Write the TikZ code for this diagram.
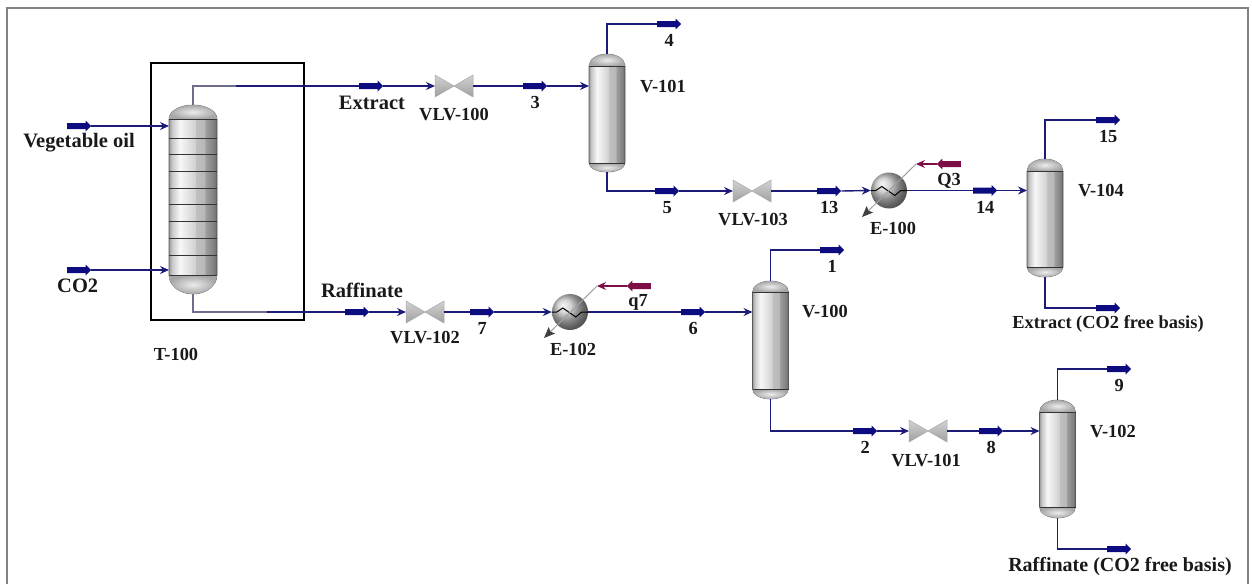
\documentclass[tikz,border=0pt]{standalone}
\usepackage{fontspec}
\setmainfont{Liberation Serif}
\usepackage{xcolor}
\usetikzlibrary{shapes.arrows, arrows.meta, positioning}
\definecolor{streamnavy}{RGB}{12,12,128}
\definecolor{linenavy}{RGB}{28,28,120}
\definecolor{washedline}{RGB}{110,110,140}
\definecolor{dutyred}{RGB}{125,15,70}
\definecolor{framegray}{RGB}{130,130,130}
\pgfdeclarehorizontalshading{vesselbands}{100bp}{
  gray(0bp)=(.6); gray(25bp)=(.6); gray(28bp)=(.78); gray(36bp)=(.97);
  gray(46bp)=(.88); gray(52bp)=(.82); gray(53bp)=(.75); gray(62bp)=(.72);
  gray(63bp)=(.62); gray(72bp)=(.5); gray(75bp)=(.38); gray(100bp)=(.38)
}
\tikzset{
  stream/.style={line width=1.4pt, color=linenavy},
  washed/.style={line width=1.1pt, color=washedline},
  feed/.style={stream, -{Stealth[length=9pt, width=8pt, inset=3pt]}},
  marker/.style={
    single arrow, fill=streamnavy, minimum height=24pt, minimum width=11pt,
    single arrow head extend=2.5pt, inner xsep=0pt, inner ysep=2.8pt, anchor=tail
  },
  dutymarker/.style={marker, fill=dutyred, shape border rotate=180},
  dutyarrow/.style={line width=1.2pt, color=dutyred, -{Stealth[length=9pt, width=8pt, inset=3pt]}},
  dutyline/.style={line width=1pt, color=gray!75, -{Stealth[length=11pt, width=9pt, inset=2pt, color=black!75]}},
  exchanger/.style={circle, minimum size=36pt, inner sep=0pt, shading=ball, ball color=gray!45},
  coil/.style={line width=1pt, color=black},
  unitbody/.style={rectangle, inner sep=0pt, outer sep=0pt},
  vesselwall/.style={shading=vesselbands, draw=gray!70!black, line width=.6pt},
  vesselcap/.style={inner color=gray!15, outer color=gray!70},
  tray/.style={line width=.8pt, color=black!80},
  valvehalf/.style={top color=gray!35, middle color=white, bottom color=gray!75, draw=gray!70, line width=.5pt},
  tag/.style={font=\fontsize{18.4}{20}\selectfont\bfseries, inner sep=0pt, text=black!90},
  numtag/.style={tag, xshift=1.5pt},
  bigtag/.style={tag, font=\fontsize{20.5}{22}\selectfont\bfseries}
}
% name, x, y, width, height, top dome depth, bottom dome depth
\newcommand{\vessel}[7]{
  \node[unitbody, minimum width=#4pt, minimum height=#5pt] (#1) at (#2,#3) {};
  \path[vesselwall] ([yshift=-#6pt]#1.north west)
    arc[start angle=180, end angle=0, x radius=#4pt/2, y radius=#6pt]
    -- ([yshift=#7pt]#1.south east)
    arc[start angle=0, end angle=-180, x radius=#4pt/2, y radius=#7pt] -- cycle;
  \shade[vesselcap] ([yshift=-#6pt]#1.north west)
    arc[start angle=180, end angle=0, x radius=#4pt/2, y radius=#6pt] -- cycle;
  \shade[vesselcap] ([yshift=#7pt]#1.south east)
    arc[start angle=0, end angle=-180, x radius=#4pt/2, y radius=#7pt] -- cycle;
  \draw[tray] ([yshift=-#6pt]#1.north west) -- ([yshift=-#6pt]#1.north east);
  \draw[tray] ([yshift=#7pt]#1.south west) -- ([yshift=#7pt]#1.south east);
}
% name, x, y
\newcommand{\valve}[3]{
  \node[unitbody, minimum width=38pt, minimum height=22pt] (#1) at (#2,#3) {};
  \shade[valvehalf] (#1.north west) -- (#1.south west) -- (#1.center) -- cycle;
  \shade[valvehalf] (#1.north east) -- (#1.south east) -- (#1.center) -- cycle;
}
\begin{document}
\begin{tikzpicture}[x=1pt, y=-1pt]
  \useasboundingbox (0,0) rectangle (1252,584);
  \coordinate (frameA) at (7,584);
  \coordinate (frameB) at (7,8);
  \coordinate (frameC) at (1248,8);
  \coordinate (frameD) at (1248,584);
  \draw[framegray, line width=2pt] (frameA) -- (frameB) -- (frameC) -- (frameD);

  % Extractor with its box
  \node[draw=black, line width=1.1pt, minimum width=153pt, minimum height=257pt,
        inner sep=0pt] (t100box) at (227.5,191.5) {};
  \vessel{t100}{193}{199.5}{48}{189}{14}{19}
  \foreach \trayy in {138,154,171,188,204,221,238,255}
    \draw[tray] (t100.west |- 0,\trayy) -- (t100.east |- 0,\trayy);
  \node[tag] (t100tag) at (176,354) {T-100};

  \node[marker] (oil) at (67,126) {};
  \node[marker] (co2) at (67,270) {};
  \node[bigtag] (oiltag) at (79,143) {Vegetable oil};
  \node[bigtag, below=6pt of co2.south] (co2tag) {CO2};
  \draw[feed] (oil.tip) -- (t100.west |- oil.tip);
  \draw[feed] (co2.tip) -- (t100.west |- co2.tip);

  % Extract line
  \coordinate (t100top) at (236,86);
  \node[marker] (extract) at (359,86) {};
  \valve{vlv100}{454}{86}
  \node[marker] (s3) at (523,86) {};
  \vessel{v101}{607}{113}{36}{118}{12}{9}
  \node[marker] (s4) at (657,24) {};
  \node[marker] (s5) at (655,191) {};
  \valve{vlv103}{752}{191}
  \node[marker] (s13) at (817,191) {};
  \node[exchanger] (e100) at (889,190.5) {};
  \node[marker] (s14) at (973,190.5) {};
  \vessel{v104}{1045}{218}{36}{118}{12}{10}
  \node[marker] (s15) at (1096,120) {};
  \node[marker] (extractfree) at (1096,308) {};

  \draw[washed] (t100.north) |- (t100top);
  \draw[stream] (t100top) -- (extract.tail);
  \draw[feed] (extract.tip) -- (vlv100.west);
  \draw[stream] (vlv100.east) -- (s3.tail);
  \draw[feed] (s3.tip) -- (v101.west |- s3.tip);
  \draw[stream] (v101.north) |- (s4.tail);
  \draw[stream] (v101.south) |- (s5.tail);
  \draw[feed] (s5.tip) -- (vlv103.west);
  \draw[stream] (vlv103.east) -- (s13.tail);
  \draw[feed] (s13.tip) -- (e100.west);
  \draw[stream] (e100.east) -- (s14.tail);
  \draw[feed] (s14.tip) -- (v104.west |- s14.tip);
  \draw[stream] (v104.north) |- (s15.tail);
  \draw[stream] (v104.south) |- (extractfree.tail);
  \draw[coil] (e100.west) -- ++(5,0) -- ++(6,-4) -- ++(13,9) -- ++(6,-5) -- (e100.east);

  \node[dutymarker] (q3) at (961,164) {};
  \coordinate (e100in) at (916,164);
  \coordinate (e100out) at (862,217);
  \draw[dutyarrow] (q3.tip) -- (e100in);
  \draw[dutyline] (e100in) -- (e100out);

  \node[bigtag] (extracttag) at (372,103) {Extract};
  \node[tag] (vlv100tag) at (454,115) {VLV-100};
  \node[numtag, below=7pt of s3.south] (s3tag) {3};
  \node[tag] (v101tag) at (663,87) {V-101};
  \node[numtag, below=7pt of s4.south] (s4tag) {4};
  \node[numtag, below=7pt of s5.south] (s5tag) {5};
  \node[tag] (vlv103tag) at (753,220) {VLV-103};
  \node[numtag, below=7pt of s13.south] (s13tag) {13};
  \node[tag] (e100tag) at (893,228) {E-100};
  \node[tag] (q3tag) at (949,181) {Q3};
  \node[numtag, below=7pt of s14.south] (s14tag) {14};
  \node[tag] (v104tag) at (1101,191) {V-104};
  \node[numtag, below=7pt of s15.south] (s15tag) {15};
  \node[tag] (extractfreetag) at (1108,324) {Extract (CO2 free basis)};

  % Raffinate line
  \coordinate (t100bot) at (267,312);
  \node[marker] (raffinate) at (345,312) {};
  \valve{vlv102}{425}{312}
  \node[marker] (s7) at (470,312) {};
  \node[exchanger] (e102) at (570,312) {};
  \node[marker] (s6) at (681,312) {};
  \vessel{v100}{770.5}{340}{36}{118}{11}{10}
  \node[marker] (s1) at (820,250) {};
  \node[marker] (s2) at (853,431) {};
  \valve{vlv101}{928}{431}
  \node[marker] (s8) at (979,431) {};
  \vessel{v102}{1057.5}{459}{36}{118}{12}{11}
  \node[marker] (s9) at (1107,369) {};
  \node[marker] (raffinatefree) at (1107,549) {};

  \draw[washed] (t100.south) |- (t100bot);
  \draw[stream] (t100bot) -- (raffinate.tail);
  \draw[feed] (raffinate.tip) -- (vlv102.west);
  \draw[stream] (vlv102.east) -- (s7.tail);
  \draw[feed] (s7.tip) -- (e102.west);
  \draw[stream] (e102.east) -- (s6.tail);
  \draw[feed] (s6.tip) -- (v100.west |- s6.tip);
  \draw[stream] (v100.north) |- (s1.tail);
  \draw[stream] (v100.south) |- (s2.tail);
  \draw[feed] (s2.tip) -- (vlv101.west);
  \draw[stream] (vlv101.east) -- (s8.tail);
  \draw[feed] (s8.tip) -- (v102.west |- s8.tip);
  \draw[stream] (v102.north) |- (s9.tail);
  \draw[stream] (v102.south) |- (raffinatefree.tail);
  \draw[coil] (e102.west) -- ++(5,0) -- ++(6,-4) -- ++(13,9) -- ++(6,-5) -- (e102.east);

  \node[dutymarker] (q7) at (651,286) {};
  \coordinate (e102in) at (597,286);
  \coordinate (e102out) at (544,338);
  \draw[dutyarrow] (q7.tip) -- (e102in);
  \draw[dutyline] (e102in) -- (e102out);

  \node[bigtag] (raffinatetag) at (362,290) {Raffinate};
  \node[tag] (vlv102tag) at (425,338) {VLV-102};
  \node[numtag, below=7pt of s7.south] (s7tag) {7};
  \node[tag] (e102tag) at (573,349) {E-102};
  \node[tag] (q7tag) at (638,302) {q7};
  \node[numtag, below=7pt of s6.south] (s6tag) {6};
  \node[tag] (v100tag) at (825,312) {V-100};
  \node[numtag, below=7pt of s1.south] (s1tag) {1};
  \node[numtag, below=7pt of s2.south] (s2tag) {2};
  \node[tag] (vlv101tag) at (926,461) {VLV-101};
  \node[numtag, below=7pt of s8.south] (s8tag) {8};
  \node[tag] (v102tag) at (1113,432) {V-102};
  \node[numtag, below=7pt of s9.south] (s9tag) {9};
  \node[bigtag, font=\fontsize{20}{22}\selectfont\bfseries] (raffinatefreetag) at (1120,567) {Raffinate (CO2 free basis)};
\end{tikzpicture}
\end{document}
